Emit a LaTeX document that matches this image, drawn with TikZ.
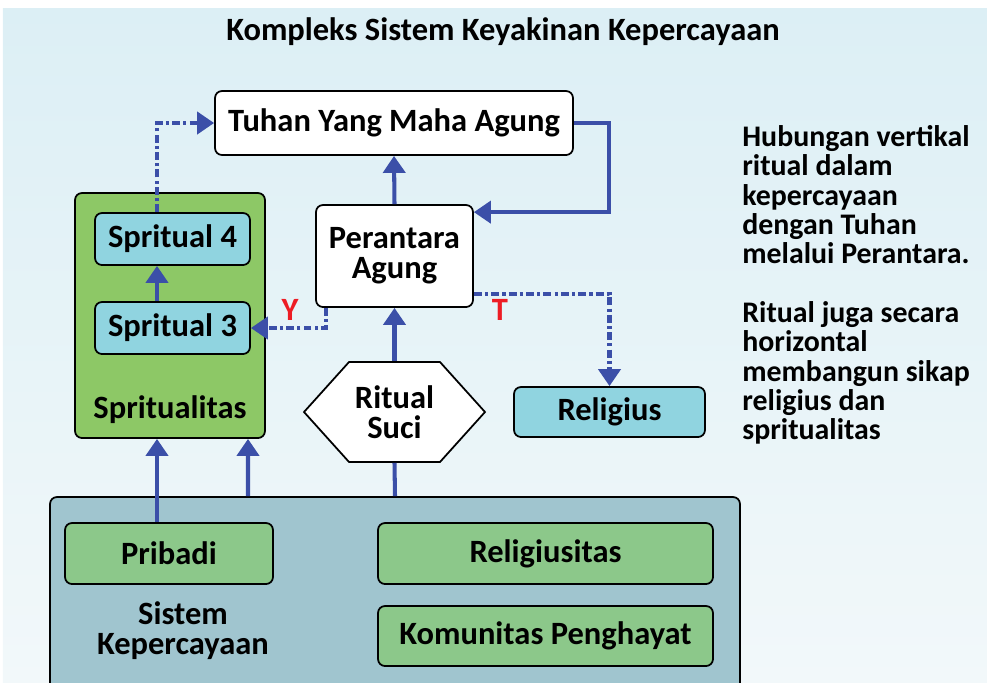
\documentclass[tikz,border=0pt]{standalone}
\usepackage{fontspec}
\setmainfont{Carlito}
\usetikzlibrary{arrows.meta,shapes.symbols}
\definecolor{bgtop}{RGB}{220,239,245}
\definecolor{bgbot}{RGB}{242,248,250}
\definecolor{linkblue}{RGB}{59,79,168}
\definecolor{spiritgreen}{RGB}{141,200,102}
\definecolor{boxcyan}{RGB}{144,212,224}
\definecolor{boxgreen}{RGB}{140,200,138}
\definecolor{sysblue}{RGB}{160,197,207}
\definecolor{labred}{RGB}{237,28,36}
\begin{document}
\begin{tikzpicture}[
    font=\bfseries\fontsize{18.5}{17}\selectfont,
    box/.style={draw, line width=1pt, rounded corners=4pt, fill=white, align=center},
    cyanbox/.style={box, fill=boxcyan},
    greenbox/.style={box, fill=boxgreen},
    link/.style={draw=linkblue, line width=2.3pt, -{Triangle[width=0.44cm,length=0.34cm]}},
    linkdash/.style={link, dash pattern=on 4.5pt off 1.8pt on 1.8pt off 1.8pt}]
      \useasboundingbox (0,0) rectangle (19.74,-13.64);
      \clip (0,0) rectangle (19.74,-13.64);
      \shade[top color=bgtop, bottom color=bgbot] (0.06,-0.16) rectangle (19.74,-13.64);

      % Title and notes
      \node (title) at (10.06,-0.64) {Kompleks Sistem Keyakinan Kepercayaan};
      \node[anchor=north west, align=left, inner sep=0pt, font=\bfseries\fontsize{17}{16.7}\selectfont] (notes) at (14.84,-2.5)
        {Hubungan vertikal\\ritual dalam\\kepercayaan\\dengan Tuhan\\melalui Perantara.\\[16.7pt]Ritual juga secara\\horizontal\\membangun sikap\\religius dan\\spritualitas};

      % Boxes
      \node[box, minimum width=7.16cm, minimum height=1.28cm] (tuhan) at (7.88,-2.46) {Tuhan Yang Maha Agung};
      \node[box, minimum width=3.14cm, minimum height=2.04cm] (perantara) at (7.89,-5.12) {Perantara\\Agung};
      \node[box, fill=spiritgreen, minimum width=3.8cm, minimum height=4.9cm] (spirit) at (3.4,-6.31) {};
      \node (spiritlabel) at (3.4,-8.2) {Spritualitas};
      \node[cyanbox, minimum width=3.1cm, minimum height=1.04cm] (sp4) at (3.45,-4.78) {Spritual 4};
      \node[cyanbox, minimum width=3.1cm, minimum height=1.04cm] (sp3) at (3.45,-6.56) {Spritual 3};
      \node[draw, line width=1pt, fill=white, signal, signal to=west and east, signal pointer angle=96,
        minimum width=3.62cm, minimum height=2cm, inner sep=1pt, align=center] (ritual) at (7.89,-8.24) {Ritual\\Suci};
      \node[cyanbox, minimum width=3.82cm, minimum height=1cm] (religius) at (12.19,-8.24) {Religius};
      \node[box, fill=sysblue, minimum width=13.8cm, minimum height=4.06cm] (sistem) at (7.9,-11.97) {};
      \node[greenbox, minimum width=4.16cm, minimum height=1.22cm] (pribadi) at (3.38,-11.07) {Pribadi};
      \node[greenbox, minimum width=6.7cm, minimum height=1.22cm] (religiusitas) at (10.91,-11.07) {Religiusitas};
      \node[greenbox, minimum width=6.7cm, minimum height=1.2cm] (komunitas) at (10.91,-12.72) {Komunitas Penghayat};
      \node[align=center] (sislabel) at (3.66,-12.62) {Sistem\\Kepercayaan};

      % Links
      \draw[linkdash] ([xshift=-0.31cm]sp4.north) |- (tuhan.west);
      \draw[link] (perantara.north) -- (tuhan.south);
      \draw[link] (tuhan.east) -- ++(0.7,0) |- ([yshift=-0.16cm]perantara.north east);
      \draw[link] ([xshift=-0.31cm]sp3.north) -- ([xshift=-0.31cm]sp4.south);
      \draw[linkdash] ([xshift=0.22cm]perantara.south west) |- (sp3.east);
      \draw[linkdash] ([yshift=0.28cm]perantara.south east) -| (religius.north);
      \draw[link] (ritual.north) -- (perantara.south);
      \draw[link, -] (sistem.north) -- (ritual.south);
      \draw[link] ([xshift=-0.24cm]pribadi.north) -- ([xshift=-0.26cm]spirit.south);
      \draw[link] ([xshift=-2.94cm]sistem.north) -- ([xshift=1.56cm]spirit.south);

      % Branch labels
      \node[text=labred] (laby) at (5.8,-6.2) {Y};
      \node[text=labred] (labt) at (10.0,-6.2) {T};
\end{tikzpicture}
\end{document}
